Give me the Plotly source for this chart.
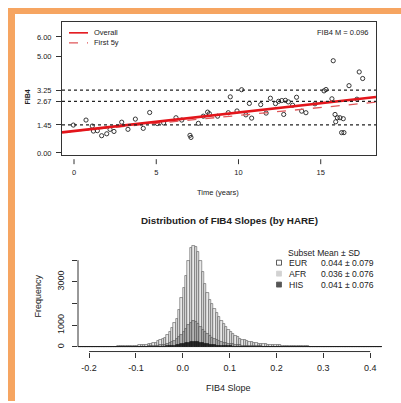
import plotly.graph_objects as go

W, H = 401, 403

# ---------------- top panel: FIB4 over time ----------------
time_years = [-0.04, 0.73, 1.11, 1.18, 1.42, 1.68, 1.99, 2.19, 2.43, 2.90, 3.28, 3.73,
              4.21, 4.60, 5.06, 5.45, 6.20, 6.55, 7.05, 7.11, 7.56, 7.86, 8.12, 8.23,
              8.73, 9.38, 9.50, 9.91, 10.19, 10.45, 10.66, 10.80, 11.35, 11.68, 11.94,
              12.25, 12.44, 12.63, 12.75, 12.85, 13.03, 13.29, 13.53, 13.84, 14.10,
              14.65, 15.20, 15.32, 15.68, 15.76, 15.87, 15.91, 16.01, 16.17, 16.37,
              16.27, 16.41, 16.72, 17.20, 17.34, 17.55]
fib4_values = [1.44, 1.70, 1.39, 1.13, 1.15, 0.89, 0.99, 1.22, 1.11, 1.59, 1.22, 1.75,
               1.27, 2.09, 1.52, 1.55, 1.82, 1.70, 0.91, 0.80, 1.53, 1.90, 2.11, 2.03,
               1.90, 2.08, 2.90, 2.17, 3.27, 1.97, 2.56, 1.80, 2.50, 2.06, 2.83,
               2.55, 2.67, 2.71, 1.99, 2.72, 2.64, 2.47, 2.88, 2.16, 2.08,
               2.54, 3.21, 3.28, 2.80, 4.77, 1.99, 1.61, 1.82, 1.82, 1.77,
               1.05, 1.05, 3.48, 2.78, 4.19, 3.85]

threshold_levels = [1.45, 2.67, 3.25]
fib4_ticks = [0.00, 1.45, 2.67, 3.25, 5.00, 6.00]
time_ticks = [0, 5, 10, 15]

overall_intercept, overall_slope = 1.13, 0.096
first5_intercept, first5_slope = 1.12, 0.082

T_RANGE = [-0.73, 18.36]
V_RANGE = [-0.12, 6.78]

# ---------------- bottom panel: slope histograms ----------------
BIN_START = -0.225
BIN_WIDTH = 0.005

eur_counts = [6, 7, 7, 8, 9, 10, 11, 12, 13, 14, 16, 17, 19, 21, 23, 25, 28, 31, 34, 38,
              42, 46, 51, 57, 63, 70, 77, 86, 96, 108, 125, 148, 178, 214, 262, 318, 380,
              445, 550, 680, 870, 1100, 1320, 1700, 2250, 2750, 3300, 3950, 4580, 4660,
              4620, 4380, 3980, 3450, 2900, 2500, 2180, 1980, 1780, 1580, 1380, 1200,
              1050, 910, 790, 690, 600, 520, 450, 395, 350, 310, 278, 250, 225, 203, 183,
              166, 152, 138, 126, 115, 106, 98, 91, 84, 77, 71, 65, 60, 55, 51, 47, 44,
              41, 38, 35, 33, 31, 29, 27, 25, 24, 22, 21, 20, 19, 18, 17, 16, 15, 14, 14,
              13, 12, 12, 11, 11, 10, 10, 9, 9, 8, 8, 8, 7, 7, 7, 6, 6]
afr_counts = [2, 2, 2, 2, 3, 3, 3, 3, 4, 4, 4, 5, 5, 5, 6, 6, 7, 7, 8, 9, 9, 10, 11, 12, 13,
              15, 17, 20, 23, 27, 32, 38, 45, 55, 66, 80, 97, 118, 145, 180, 225, 285, 360,
              450, 560, 700, 850, 1000, 1130, 1185, 1150, 1050, 930, 800, 690, 590, 510,
              440, 380, 330, 285, 248, 215, 188, 164, 143, 125, 110, 96, 85, 75, 67, 60,
              54, 48, 43, 39, 35, 32, 29, 26, 24, 22, 20, 18, 17, 16, 15, 14, 13, 12, 11,
              10, 10, 9, 9, 8, 8, 7, 7, 7, 6, 6, 6, 5, 5, 5, 5, 4, 4, 4, 4, 4, 3, 3, 3, 3,
              3, 3, 3, 2, 2, 2, 2, 2, 2, 2, 2, 2, 2]
his_counts = [0, 0, 0, 0, 0, 1, 1, 1, 1, 1, 1, 1, 1, 2, 2, 2, 2, 2, 3, 3, 3, 3, 4, 4, 4,
              5, 5, 6, 7, 8, 9, 10, 11, 12, 15, 18, 22, 27, 34, 42, 52, 65, 80, 100, 125,
              155, 185, 212, 235, 245, 238, 218, 195, 170, 148, 128, 110, 95, 82, 71, 62,
              54, 47, 41, 36, 31, 27, 24, 21, 18, 16, 14, 13, 12, 11, 10, 9, 8, 8, 7, 7,
              6, 6, 6, 5, 5, 5, 4, 4, 4, 4, 3, 3, 3, 3, 3, 3, 2, 2, 2, 2, 2, 2, 2, 2, 2,
              1, 1, 1, 1, 1, 1, 1, 1, 1, 1, 1, 1, 1, 1, 1, 1, 1, 1, 1, 1, 1, 1, 1, 1]

subsets = ["EUR", "AFR", "HIS"]
subset_stats = ["0.044 ± 0.079", "0.036 ± 0.076", "0.041 ± 0.076"]
subset_fill = ["#e9e9e9", "#b4b4b4", "#2a2a2a"]
subset_edge = ["#3a3a3a", "#3a3a3a", "#111111"]
legend_swatch = ["#ffffff", "#d2d2d2", "#555555"]

slope_ticks = [-0.2, -0.1, 0.0, 0.1, 0.2, 0.3, 0.4]
freq_ticks = [0, 1000, 2000, 3000, 4000]
freq_labels = ["0", "1000", "", "3000", ""]

S_RANGE = [-0.2237, 0.4252]
F_RANGE = [-211, 4986]

FONT = "Liberation Sans, Arial, sans-serif"
INK = "#222222"


def px(x):
    return x / W


def py(y):
    return 1 - y / H


fig = go.Figure()

# scatter of FIB4 measurements
fig.add_trace(go.Scatter(
    x=time_years, y=fib4_values, mode="markers",
    marker=dict(symbol="circle-open", size=4.2, color=INK, line=dict(width=0.9, color=INK)),
    xaxis="x", yaxis="y", showlegend=False, hoverinfo="skip"))

# regression lines
fig.add_trace(go.Scatter(
    x=T_RANGE, y=[first5_intercept + first5_slope * t for t in T_RANGE], mode="lines",
    line=dict(color="#e0575a", width=1.3, dash="dash"),
    xaxis="x", yaxis="y", showlegend=False, hoverinfo="skip"))
fig.add_trace(go.Scatter(
    x=T_RANGE, y=[overall_intercept + overall_slope * t for t in T_RANGE], mode="lines",
    line=dict(color="#e3151b", width=2.6),
    xaxis="x", yaxis="y", showlegend=False, hoverinfo="skip"))

# overlaid histograms
for name, counts, fill, edge in zip(subsets, [eur_counts, afr_counts, his_counts],
                                    subset_fill, subset_edge):
    centers = [BIN_START + (i + 0.5) * BIN_WIDTH for i in range(len(counts))]
    fig.add_trace(go.Bar(
        x=centers, y=counts, width=BIN_WIDTH, name=name,
        marker=dict(color=fill, line=dict(color=edge, width=0.5)),
        xaxis="x2", yaxis="y2", showlegend=False, hoverinfo="skip"))

shapes = []

# FIB4 threshold guides
for lvl in threshold_levels:
    shapes.append(dict(type="line", xref="x domain", yref="y", x0=0, x1=1, y0=lvl, y1=lvl,
                       line=dict(color=INK, width=1.3, dash="dot")))

# time-axis tick marks, set a little below the box
for t in time_ticks:
    shapes.append(dict(type="line", xref="x", yref="paper", x0=t, x1=t,
                       y0=py(160), y1=py(165), line=dict(color="#333333", width=1)))

# histogram axis lines spanning the tick range
shapes.append(dict(type="line", xref="x2", yref="paper", x0=slope_ticks[0], x1=slope_ticks[-1],
                   y0=py(353.3), y1=py(353.3), line=dict(color="#333333", width=1)))
shapes.append(dict(type="line", xref="paper", yref="y2", x0=px(78), x1=px(78),
                   y0=freq_ticks[0], y1=freq_ticks[-1], line=dict(color="#333333", width=1)))

# legend samples, top panel
shapes.append(dict(type="line", xref="paper", yref="paper", x0=px(69), x1=px(88),
                   y0=py(33), y1=py(33), line=dict(color="#e3151b", width=1.6)))
shapes.append(dict(type="line", xref="paper", yref="paper", x0=px(69), x1=px(88),
                   y0=py(43), y1=py(43), line=dict(color="#e0575a", width=1.3, dash="dash")))

# legend swatches, bottom panel
row_y = [264, 275, 286]
for ry, sw, i in zip(row_y, legend_swatch, range(3)):
    shapes.append(dict(type="rect", xref="paper", yref="paper",
                       x0=px(276.5), x1=px(281.5), y0=py(ry + 2.5), y1=py(ry - 2.5),
                       fillcolor=sw,
                       line=dict(color="#333333" if i == 0 else sw, width=0.8)))

# orange frame
shapes.append(dict(type="rect", xref="paper", yref="paper", x0=px(8), x1=px(15),
                   y0=0, y1=py(8), fillcolor="#f6a561", line=dict(width=0), layer="above"))
shapes.append(dict(type="rect", xref="paper", yref="paper", x0=px(8), x1=1,
                   y0=py(14), y1=py(8), fillcolor="#f6a561", line=dict(width=0), layer="above"))

annotations = []


def note(text, x, y, size, xanchor="center", angle=0, bold=False):
    annotations.append(dict(
        text=f"<b>{text}</b>" if bold else text, x=px(x), y=py(y), xref="paper", yref="paper",
        xanchor=xanchor, yanchor="middle", showarrow=False, textangle=angle,
        font=dict(family=FONT, size=size, color=INK)))


note("FIB4", 28, 97, 7, angle=-90, bold=True)
note("Time (years)", 218, 193, 7.5)
note("Overall", 92, 33, 7.5, xanchor="left")
note("First 5y", 92, 43, 7.5, xanchor="left")
note("FIB4 M = 0.096", 371, 33, 7.5, xanchor="right")

note("Distribution of FIB4 Slopes (by HARE)", 229.5, 222, 9.8, bold=True)
note("Frequency", 38, 298, 9, angle=-90)
note("FIB4 Slope", 229, 390, 9)
note("Subset Mean ± SD", 286, 254, 8.6, xanchor="left")
for ry, name, stat in zip(row_y, subsets, subset_stats):
    note(name, 287, ry, 8.6, xanchor="left")
    note(stat, 376, ry, 8.6, xanchor="right")

fig.update_layout(
    width=W, height=H, margin=dict(l=0, r=0, t=0, b=0),
    paper_bgcolor="white", plot_bgcolor="white",
    barmode="overlay", bargap=0,
    font=dict(family=FONT, color=INK),
    shapes=shapes, annotations=annotations,
    xaxis=dict(domain=[px(62), px(376)], range=T_RANGE, showgrid=False, zeroline=False,
               showline=True, mirror=True, linecolor="#333333", linewidth=1,
               tickvals=time_ticks, ticks="", ticklabelstandoff=10,
               tickfont=dict(size=7.5, color=INK)),
    yaxis=dict(domain=[py(156), py(22)], range=V_RANGE, showgrid=False, zeroline=False,
               showline=True, mirror=True, linecolor="#333333", linewidth=1,
               tickvals=fib4_ticks, ticktext=[f"{v:.2f}" for v in fib4_ticks],
               ticks="outside", ticklen=5, tickcolor="#333333", ticklabelstandoff=3,
               tickfont=dict(size=7.5, color=INK)),
    xaxis2=dict(domain=[px(78), px(382)], range=S_RANGE, showgrid=False, zeroline=False,
                showline=False, tickvals=slope_ticks, ticktext=[f"{v:.1f}" for v in slope_ticks],
                ticks="outside", ticklen=5, tickcolor="#333333", ticklabelstandoff=3,
                tickfont=dict(size=9, color=INK), anchor="y2"),
    yaxis2=dict(domain=[py(353.3), py(240)], range=F_RANGE, showgrid=False, zeroline=False,
                showline=False, tickvals=freq_ticks, ticktext=freq_labels, tickangle=-90,
                ticks="outside", ticklen=5, tickcolor="#333333", ticklabelstandoff=4,
                tickfont=dict(size=9, color=INK), anchor="x2"),
)

fig.write_html("out.html")
